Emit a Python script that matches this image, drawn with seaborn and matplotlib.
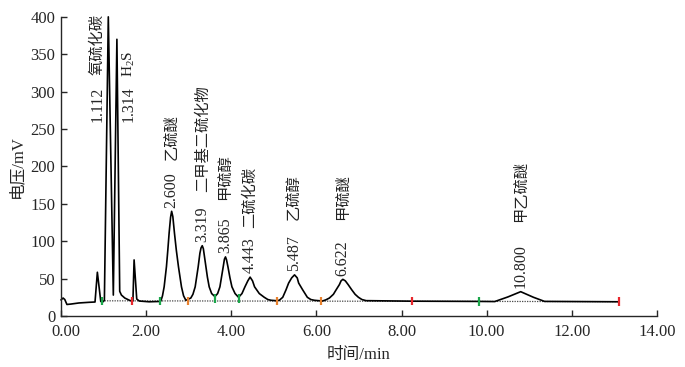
import numpy as np
import pandas as pd
import matplotlib
matplotlib.use("Agg")
import matplotlib.pyplot as plt
import matplotlib.transforms as mtransforms
import seaborn as sns

# ==========================
# Data
# ==========================

curve_time = [0.00, 0.05, 0.09, 0.14, 0.24, 0.42, 0.66, 0.80, 0.855, 0.935,
              0.99, 1.02, 1.112, 1.23, 1.314, 1.38, 1.42, 1.50, 1.62, 1.69,
              1.718, 1.78, 1.84, 2.07, 2.30, 2.346, 2.385, 2.424, 2.478, 2.51,
              2.541, 2.575, 2.600, 2.628, 2.666, 2.71, 2.76, 2.831, 2.88, 2.934,
              3.05, 3.10, 3.153, 3.224, 3.264, 3.29, 3.319, 3.345, 3.36, 3.405,
              3.44, 3.482, 3.54, 3.616, 3.68, 3.734, 3.812, 3.84, 3.865, 3.89,
              3.922, 3.97, 4.016, 4.09, 4.172, 4.252, 4.322, 4.39, 4.443, 4.50,
              4.548, 4.659, 4.776, 4.86, 4.934, 5.05, 5.129, 5.21, 5.287, 5.348,
              5.42, 5.487, 5.55, 5.584, 5.678, 5.788, 5.87, 5.953, 6.141, 6.22,
              6.306, 6.40, 6.464, 6.541, 6.58, 6.622, 6.68, 6.746, 6.831, 6.91,
              6.988, 7.07, 7.169, 8.25, 9.81, 10.19, 10.5, 10.8, 11.1, 11.36,
              13.11]
curve_mv = [21.5, 24.0, 22.0, 15.4, 16.0, 17.4, 18.3, 18.7, 58.5, 19.4,
            19.0, 21.0, 400.0, 28.0, 370.0, 33.0, 28.0, 24.0, 20.7, 20.0,
            75.0, 22.7, 20.0, 19.0, 19.4, 20.0, 27.0, 39.0, 66.0, 88.0,
            111.0, 132.0, 140.0, 133.0, 111.0, 88.0, 66.0, 39.0, 27.0, 21.0,
            24.0, 29.0, 39.0, 66.0, 84.0, 91.0, 94.0, 90.0, 84.0, 66.0,
            52.0, 39.0, 30.0, 26.0, 30.0, 39.0, 66.0, 76.0, 79.0, 75.0,
            66.0, 51.0, 39.0, 30.0, 25.0, 30.0, 39.0, 47.0, 52.0, 47.0,
            39.0, 30.0, 25.0, 22.0, 21.0, 20.5, 21.0, 25.0, 35.0, 44.0,
            51.0, 55.0, 51.0, 44.0, 35.0, 25.0, 22.0, 21.0, 20.0, 21.5,
            24.0, 29.0, 35.0, 42.0, 47.0, 49.0, 47.0, 42.0, 35.0, 29.0,
            25.0, 22.0, 20.5, 19.8, 19.5, 19.3, 25.5, 32.5, 25.0, 19.5,
            19.0]

# integration markers
mark_time = [0.965, 1.67, 2.33, 2.99, 3.62, 4.19, 5.07, 6.11, 8.25, 9.81, 13.11]
mark_mv = [20.0, 20.0, 20.0, 20.0, 23.5, 23.5, 19.8, 19.8, 19.6, 19.4, 19.2]
mark_kind = ["g", "r", "g", "o", "g", "g", "o", "o", "r", "g", "r"]

# dotted baseline
base_time = [0.965, 13.11]
base_mv = [20.3, 19.2]

# peak labels
peak_rt = ["1.112", "1.314", "2.600", "3.319", "3.865", "4.443", "5.487", "6.622", "10.800"]
peak_name = ["氧硫化碳", "H$_2$S", "乙硫醚", "二甲基二硫化物", "甲硫醇",
             "二硫化碳", "乙硫醇", "甲硫醚", "甲乙硫醚"]

x_ticks = [0, 2, 4, 6, 8, 10, 12, 14]
y_ticks = [0, 50, 100, 150, 200, 250, 300, 350, 400]

# label placement (layout only)
num_x = [0.855, 1.60, 2.600, 3.319, 3.865, 4.443, 5.487, 6.622, 10.800]
num_y = [259, 259, 145, 99, 84, 57, 60, 54, 37.5]
name_y = [322, 320, 209, 166, 155, 118, 128, 128, 126]

# ==========================
# Plot
# ==========================

sns.set_style("ticks")
plt.rcParams["font.family"] = ["Liberation Serif", "Noto Sans CJK SC"]
plt.rcParams["mathtext.fontset"] = "custom"
plt.rcParams["mathtext.rm"] = "Liberation Serif"
plt.rcParams["mathtext.default"] = "rm"

fig = plt.figure(figsize=(6.85, 3.67), dpi=100)
ax = fig.add_axes([0.089, 0.139, 0.870, 0.815])

curve = pd.DataFrame({"t": curve_time, "mv": curve_mv})
marks = pd.DataFrame({"t": mark_time, "mv": mark_mv, "kind": mark_kind})
base = pd.DataFrame({"t": base_time, "mv": base_mv})

sns.lineplot(data=base, x="t", y="mv", ax=ax, color="#444444",
             linestyle=(0, (1, 1)), linewidth=0.9, estimator=None)

sns.lineplot(data=curve, x="t", y="mv", ax=ax, color="black",
             linewidth=1.2, estimator=None, sort=False)
for ln in ax.lines:
    ln.set_clip_on(False)

sns.scatterplot(data=marks, x="t", y="mv", hue="kind", ax=ax,
                palette={"g": "#1aa64a", "r": "#e8262c", "o": "#e8812e"},
                marker="|", s=36, linewidth=1.6, legend=False, zorder=5)

for i in range(len(peak_rt)):
    ax.text(num_x[i], num_y[i], peak_rt[i], rotation=90, ha="center",
            va="bottom", fontsize=11.5)
    ax.text(num_x[i], name_y[i], peak_name[i], rotation=90, ha="center",
            va="bottom", fontsize=11, color="#222222")

ax.set_xlim(0, 14)
ax.set_ylim(0, 400)
ax.set_xticks(x_ticks)
ax.set_xticklabels([f"{v:.2f}" for v in x_ticks])
ax.set_yticks(y_ticks)
ax.tick_params(direction="in", length=4, width=1, labelsize=12)
ax.tick_params(axis="x", pad=6)
ax.tick_params(axis="y", pad=4)
for s in ["left", "bottom"]:
    ax.spines[s].set_linewidth(1)
sns.despine(ax=ax)

# first x label sits a little to the right, as in the original
first = ax.get_xticklabels()[0]
first.set_transform(first.get_transform() +
                    mtransforms.ScaledTranslation(5 / 100, 0, fig.dpi_scale_trans))

ax.set_xlabel("时间/min", fontsize=12, labelpad=5)
ax.set_ylabel("电压/mV", fontsize=12, labelpad=4)

fig.savefig("out.png", dpi=100)
